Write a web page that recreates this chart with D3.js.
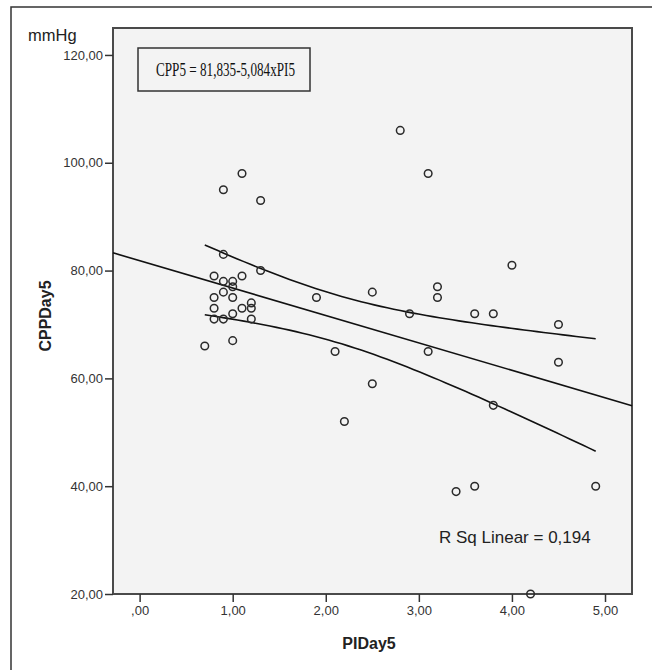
<!DOCTYPE html>
<html lang="en">
  <head>
    <meta charset="UTF-8" />
    <title>CPPDay5 vs PIDay5</title>
    <style>
      body {
        margin: 0;
        background: #fff;
      }

      .tick text {
        font-family: Arial, "Liberation Sans", sans-serif;
        font-size: 13px;
        fill: #333;
      }

      .dot {
        fill: none;
        stroke: #2a2a2a;
        stroke-width: 1.5px;
      }

      .fit {
        fill: none;
        stroke: #111;
        stroke-width: 1.6px;
      }

      .label {
        font-family: Arial, "Liberation Sans", sans-serif;
        fill: #222;
      }
    </style>
  </head>

  <body>
    <script src="https://cdn.jsdelivr.net/npm/d3@7"></script>
    <script>
      /* global d3 */

      // PIDay5 / CPPDay5 pairs
      const piDay5 = [
        2.8, 3.1, 1.1, 0.9, 1.3, 4.0, 0.9, 1.3, 1.9, 2.5, 3.2, 3.2, 2.9, 3.6,
        3.8, 4.5, 2.1, 3.1, 4.5, 0.7, 1.0, 2.5, 2.2, 3.8, 3.4, 3.6, 4.9, 4.2,
        0.8, 1.1, 0.9, 1.0, 0.9, 1.0, 0.8, 1.0, 1.2, 1.2, 0.8, 1.1, 1.0, 0.8,
        0.9, 1.2
      ];
      const cppDay5 = [
        106, 98, 98, 95, 93, 81, 83, 80, 75, 76, 77, 75, 72, 72,
        72, 70, 65, 65, 63, 66, 67, 59, 52, 55, 39, 40, 40, 20,
        79, 79, 78, 78, 76, 77, 75, 75, 74, 73, 73, 73, 72, 71,
        71, 71
      ];

      const intercept = 81.835,
        slope = -5.084,
        rSq = 0.194;

      const xTicks = [0, 1, 2, 3, 4, 5];
      const yTicks = [20, 40, 60, 80, 100, 120];

      const width = 652,
        height = 670;

      const plot = { left: 113, top: 28, right: 632, bottom: 594 };

      // SPSS style numbers: comma decimal, no leading zero
      const fmt = v => d3.format(".2f")(v).replace(".", ",").replace(/^0,/, ",");
      const comma = (v, p) => d3.format(`.${p}f`)(v).replace(".", ",");

      const x = d3
        .scaleLinear()
        .domain([-0.286, 5.29])
        .range([plot.left, plot.right]);

      const y = d3
        .scaleLinear()
        .domain([20, 125])
        .range([plot.bottom, plot.top]);

      const svg = d3
        .select("body")
        .append("svg")
        .attr("width", width)
        .attr("height", height);

      // outer frame (only left/top fall inside the picture)
      svg
        .append("rect")
        .attr("x", 11)
        .attr("y", 7)
        .attr("width", 700)
        .attr("height", 700)
        .attr("fill", "#fff")
        .attr("stroke", "#333")
        .attr("stroke-width", 1.5);

      svg
        .append("rect")
        .attr("x", plot.left)
        .attr("y", plot.top)
        .attr("width", plot.right - plot.left)
        .attr("height", plot.bottom - plot.top)
        .attr("fill", "#f3f3f3")
        .attr("stroke", "#4a4a4a")
        .attr("stroke-width", 2);

      const yAxis = svg
        .append("g")
        .attr("transform", `translate(${plot.left},0)`)
        .call(
          d3
            .axisLeft(y)
            .tickValues(yTicks)
            .tickFormat(fmt)
            .tickSize(8)
            .tickPadding(2)
        );
      yAxis.select(".domain").remove();
      yAxis.selectAll(".tick line").attr("stroke", "#333").attr("stroke-width", 1.5);

      const xAxis = svg
        .append("g")
        .attr("transform", `translate(0,${plot.bottom})`)
        .call(
          d3
            .axisBottom(x)
            .tickValues(xTicks)
            .tickFormat(fmt)
            .tickSize(8)
            .tickPadding(4)
        );
      xAxis.select(".domain").remove();
      xAxis.selectAll(".tick line").attr("stroke", "#333").attr("stroke-width", 1.5);

      svg
        .append("text")
        .attr("class", "label")
        .attr("x", 28)
        .attr("y", 41)
        .style("font-size", "16.5px")
        .text("mmHg");

      svg
        .append("text")
        .attr("class", "label")
        .attr("transform", `translate(51,${(plot.top + plot.bottom) / 2 + 5}) rotate(-90)`)
        .attr("text-anchor", "middle")
        .style("font-size", "16px")
        .style("font-weight", "bold")
        .text("CPPDay5");

      svg
        .append("text")
        .attr("class", "label")
        .attr("x", 369)
        .attr("y", 649)
        .attr("text-anchor", "middle")
        .style("font-size", "16px")
        .style("font-weight", "bold")
        .text("PIDay5");

      const body = svg.append("g");

      // regression line across the whole x range
      const fitAt = v => intercept + slope * v;
      const [x0, x1] = x.domain();
      body
        .append("line")
        .attr("class", "fit")
        .attr("x1", x(x0))
        .attr("y1", y(fitAt(x0)))
        .attr("x2", x(x1))
        .attr("y2", y(fitAt(x1)));

      // 95% confidence band of the mean, from the data
      const n = piDay5.length;
      const xMean = d3.mean(piDay5);
      const sxx = d3.sum(piDay5, v => (v - xMean) ** 2);
      const sse = d3.sum(piDay5, (v, i) => (cppDay5[i] - fitAt(v)) ** 2);
      const s = Math.sqrt(sse / (n - 2));
      const tCrit = 2.018; // t(0.975, df = 42)
      const halfWidth = v => tCrit * s * Math.sqrt(1 / n + (v - xMean) ** 2 / sxx);

      const [xMin, xMax] = d3.extent(piDay5);
      const steps = d3.range(xMin, xMax + 1e-9, (xMax - xMin) / 60);

      const band = sign =>
        d3
          .line()
          .x(v => x(v))
          .y(v => y(fitAt(v) + sign * halfWidth(v)));

      body.append("path").attr("class", "fit").attr("d", band(1)(steps));
      body.append("path").attr("class", "fit").attr("d", band(-1)(steps));

      body
        .selectAll(".dot")
        .data(piDay5)
        .join("circle")
        .attr("class", "dot")
        .attr("cx", d => x(d))
        .attr("cy", (d, i) => y(cppDay5[i]))
        .attr("r", 3.8);

      // equation box
      svg
        .append("rect")
        .attr("x", 138)
        .attr("y", 48)
        .attr("width", 172)
        .attr("height", 43)
        .attr("fill", "#f3f3f3")
        .attr("stroke", "#333")
        .attr("stroke-width", 1.5);

      svg
        .append("text")
        .attr("x", 156)
        .attr("y", 76)
        .attr("textLength", 139)
        .attr("lengthAdjust", "spacingAndGlyphs")
        .style("font-family", "'Liberation Serif', 'Times New Roman', serif")
        .style("font-size", "18px")
        .attr("fill", "#111")
        .text(`CPP5 = ${comma(intercept, 3)}-${comma(-slope, 3)}xPI5`);

      svg
        .append("text")
        .attr("class", "label")
        .attr("x", 439)
        .attr("y", 543)
        .style("font-size", "17px")
        .attr("fill", "#333")
        .text(`R Sq Linear = ${comma(rSq, 3)}`);
    </script>
  </body>
</html>
